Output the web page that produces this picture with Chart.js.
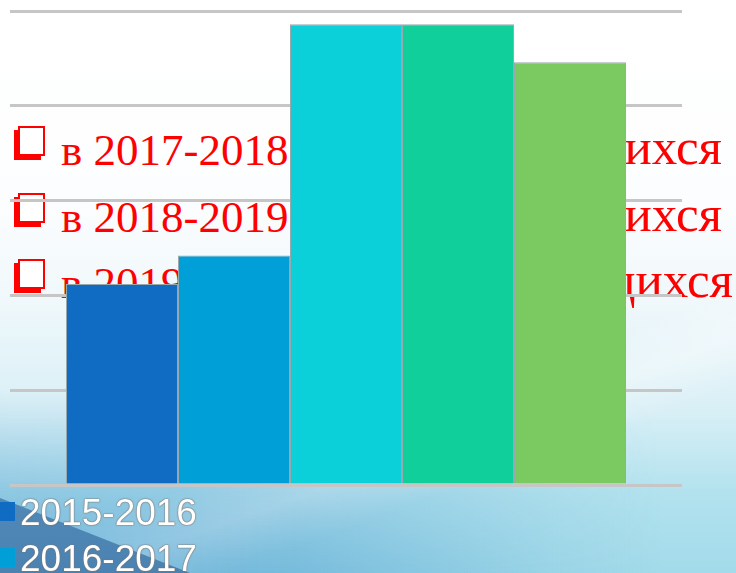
<!DOCTYPE html>
<html>
<head>
<meta charset="utf-8">
<script src="https://cdn.jsdelivr.net/npm/chart.js@4"></script>
<style>
  html, body { margin: 0; padding: 0; width: 736px; height: 573px; overflow: hidden; }
  #slide {
    position: relative; width: 736px; height: 573px; overflow: hidden;
    background:
      linear-gradient(160deg, rgba(255,255,255,0) 66%, rgba(255,255,255,0.35) 72%, rgba(255,255,255,0) 78%),
      linear-gradient(180deg, #ffffff 0%, #fcfdfe 35%, #f0f8fb 52%, #d8eff6 72%, #b2e2ee 86%, #a3dbea 100%);
  }
  #shade {
    position: absolute; left: 0; top: 0; width: 736px; height: 573px;
    background: linear-gradient(90deg, rgba(60,140,200,0.5) 0%, rgba(60,145,200,0.42) 40%, rgba(70,150,200,0.1) 75%, rgba(70,150,200,0) 90%);
    -webkit-mask-image: linear-gradient(180deg, transparent 68%, rgba(0,0,0,0.6) 86%, #000 100%);
    mask-image: linear-gradient(180deg, transparent 68%, rgba(0,0,0,0.6) 86%, #000 100%);
  }
  #wedge {
    position: absolute; left: 0; top: 490px; width: 220px; height: 83px;
    background: linear-gradient(180deg, #5189b8 0%, #4a82b2 100%);
    clip-path: polygon(0 8px, 190px 83px, 0 83px);
  }
  .line { position: absolute; left: 0; width: 736px; height: 60px;
    font-family: "Liberation Serif", "DejaVu Serif", serif; font-size: 45px; color: #ff0000; white-space: nowrap; }
  .line .box { position: absolute; left: 18px; width: 23px; height: 26px; border: 2px solid #ff0000;
    background: #fff; box-shadow: -4px 4px 0 #ff0000; }
  .line .l { position: absolute; left: 61px; bottom: 0; line-height: 1; }
  .line .r { position: absolute; bottom: 0; line-height: 1; font-size: 51px; }
  canvas { position: absolute; left: 0; top: 0; }
  #legend { position: absolute; left: 0; top: 493px; font-family: "Liberation Sans", Arial, sans-serif;
    font-size: 37px; color: #fff; text-shadow: 0 0 1px #6f6f6f, 0 0 1px #6f6f6f, 0 0 2px #808080; }
  #legend div { height: 46px; line-height: 40px; white-space: nowrap; }
  #legend span.sw { display: inline-block; width: 18px; height: 19px; margin-left: -3px; margin-right: 5px;
    vertical-align: 4px; text-shadow: none; }
</style>
</head>
<body>
<div id="slide">
  <div id="shade"></div>
  <div id="wedge"></div>
  <div class="line" style="top:113px"><div class="box" style="top:13px"></div><span class="l">в 2017-2018 учебном году –</span><span class="r" style="right:14px">обучающихся</span></div>
  <div class="line" style="top:180px"><div class="box" style="top:13px"></div><span class="l">в 2018-2019 учебном году –</span><span class="r" style="right:14px">обучающихся</span></div>
  <div class="line" style="top:246px"><div class="box" style="top:13px"></div><span class="l">в 2019-2020 учебном году –</span><span class="r" style="right:3px">обучающихся</span></div>
  <canvas id="bar-chart" width="736" height="573"></canvas>
  <div id="legend"></div>
</div>
<script>
var seasons = ['2015-2016', '2016-2017', '2017-2018', '2018-2019', '2019-2020'];
var pupils = [106, 121, 243, 243, 223];
var barColors = ['#0f6cc2', '#019fd7', '#0bd0d9', '#10cf9a', '#7aca61'];
var yTicks = [0, 50, 100, 150, 200, 250];

var ctx = document.getElementById('bar-chart').getContext('2d');
var barChart = new Chart(ctx, {
  type: 'bar',
  data: {
    labels: [''],
    datasets: seasons.map(function (s, i) {
      return {
        label: s,
        data: [pupils[i]],
        backgroundColor: barColors[i],
        borderColor: '#98a9ae',
        borderWidth: 1,
        borderSkipped: 'bottom'
      };
    })
  },
  options: {
    responsive: false,
    animation: false,
    layout: { padding: { left: 10, right: 54, top: 11, bottom: 88 } },
    datasets: { bar: { categoryPercentage: 560 / 672, barPercentage: 1.0 } },
    scales: {
      x: { display: false },
      y: {
        min: yTicks[0],
        max: yTicks[yTicks.length - 1],
        ticks: { display: false, stepSize: yTicks[1] - yTicks[0] },
        border: { display: false },
        grid: { color: '#c6c6c6', lineWidth: 3, drawTicks: false }
      }
    },
    plugins: {
      legend: { display: false },
      tooltip: { enabled: false }
    }
  }
});

// legend listed down the left, like the slide
var legendBox = document.getElementById('legend');
barChart.data.datasets.forEach(function (ds) {
  var row = document.createElement('div');
  var sw = document.createElement('span');
  sw.className = 'sw';
  sw.style.background = ds.backgroundColor;
  row.appendChild(sw);
  row.appendChild(document.createTextNode(ds.label));
  legendBox.appendChild(row);
});
</script>
</body>
</html>
